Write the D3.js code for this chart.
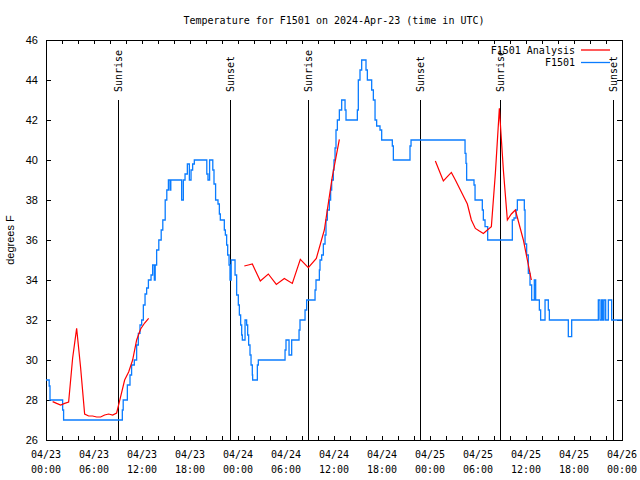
<!DOCTYPE html>
<html lang="en">
<head>
  <meta charset="UTF-8">
  <title>Temperature for F1501</title>
  <script src="https://d3js.org/d3.v7.min.js"></script>
  <style>
    body { margin: 0; background: white; }
    svg { display: block; }
    .mono { font-family: "DejaVu Sans Mono", monospace; font-size: 10px; }
    .sans { font-family: "Liberation Sans", Arial, sans-serif; font-size: 11px; }
  </style>
</head>
<body>
<div id="chart"></div>
<script>
  // hours since 2024-04-23 00:00 UTC
  const tickHours = [0, 6, 12, 18, 24, 30, 36, 42, 48, 54, 60, 66, 72];
  const tickDates = ["04/23", "04/23", "04/23", "04/23", "04/24", "04/24", "04/24", "04/24", "04/25", "04/25", "04/25", "04/25", "04/26"];
  const tickTimes = ["00:00", "06:00", "12:00", "18:00", "00:00", "06:00", "12:00", "18:00", "00:00", "06:00", "12:00", "18:00", "00:00"];
  const minorHours = d3.range(0, 73, 2);
  const yTicks = [26, 28, 30, 32, 34, 36, 38, 40, 42, 44, 46];

  const sunHours = [8.95, 22.95, 32.8, 46.8, 56.8, 70.85];
  const sunNames = ["Sunrise", "Sunset", "Sunrise", "Sunset", "Sunrise", "Sunset"];

  // F1501 observations (stepped)
  const obsHours = [
    0, 0.4, 0.5, 2.08, 2.2, 9.54, 9.65, 10.17, 10.5, 10.7,
    11.04, 11.33, 11.54, 11.75, 11.96, 12.17, 12.38, 12.58, 12.8, 13.13,
    13.33, 13.54, 13.65, 13.83, 14.1, 14.4, 14.6, 14.9, 15.1, 15.3,
    15.5, 15.6, 16.96, 17.17, 17.38, 17.67, 17.92, 18.13, 18.33, 18.54,
    20.1, 20.25, 20.45, 20.85, 21.0, 21.2, 21.5, 21.67, 21.79, 22.29,
    22.42, 22.58, 22.71, 22.88, 23.0, 23.15, 23.63, 23.83, 24.04, 24.17,
    24.33, 24.46, 24.54, 24.88, 25.08, 25.21, 25.33, 25.5, 25.63, 25.79,
    25.83, 26.42, 26.54, 29.88, 30.0, 30.38, 30.71, 31.63, 31.75, 32.38,
    32.58, 33.63, 33.75, 34.17, 34.25, 34.46, 34.67, 34.88, 35.0, 35.17,
    35.42, 35.58, 35.71, 35.92, 36.0, 36.13, 36.25, 36.42, 36.67, 36.96,
    37.38, 37.5, 38.92, 39.04, 39.25, 39.46, 40.0, 40.17, 40.71, 40.92,
    41.13, 41.33, 41.75, 41.96, 43.29, 43.42, 45.5, 45.63, 52.38, 52.5,
    52.58, 53.5, 53.63, 54.54, 54.67, 54.88, 55.21, 58.29, 58.5, 58.75,
    58.92, 59.79, 59.88, 60.08, 60.29, 60.5, 60.71, 61.04, 61.21, 61.67,
    61.83, 62.38, 62.79, 62.92, 65.29, 65.71, 69.04, 69.25, 69.46, 69.58,
    69.75, 69.96, 70.29, 70.71, 72
  ];
  const obsTemp = [
    29, 28.7, 28, 27.5, 27, 27.5, 28, 28.75, 29.25, 29.75,
    30, 30.75, 31.33, 31.75, 32, 32.75, 33.3, 33.6, 34, 34.25,
    34.75, 34, 34.75, 35.5, 36, 36.5, 37, 38, 38.5, 39,
    38.5, 39, 38, 39, 39.3, 39.8, 39, 39.5, 39.8, 40,
    39.3, 39, 40, 39.5, 38.8, 38, 37.8, 37.3, 37, 36.5,
    36.25, 35.75, 35.25, 34.75, 34, 35, 34.25, 33.25, 32.75, 32.25,
    31.75, 31.25, 31, 32, 31.75, 31.25, 30.75, 30.25, 29.75, 29.25,
    29, 29.75, 30, 30.5, 31, 30.25, 31, 31.5, 32, 32.5,
    33, 33.5, 34, 34.5, 35, 35.25, 35.8, 36.25, 37, 37.5,
    38, 38.5, 39, 39.5, 40, 40.6, 41.5, 42, 42.5, 43,
    42.5, 42, 42.5, 44, 44.5, 45, 44.5, 44, 43.5, 43,
    42, 41.7, 41.5, 41, 40.7, 40, 40.7, 41, 40.33, 39.83,
    39, 38.75, 38, 37.5, 37, 36.67, 36, 37, 37.1, 37.5,
    38, 37.5, 35.8, 35.25, 34.33, 33.75, 33, 34, 33, 32.5,
    32, 33, 32.5, 32, 31.17, 32, 33, 32, 33, 32,
    33, 32, 33, 32, 32
  ];

  // F1501 Analysis (null = gap)
  const anaHours = [
    0.83, 1.33, 1.83, 2.33, 2.83, 3.33, 3.83, 4.33, 4.83, 5.33,
    5.83, 6.33, 6.83, 7.33, 7.83, 8.33, 8.83, 9.33, 9.83, 10.33,
    10.83, 11.33, 11.83, 12.33, 12.83, 18,
    24.79, 25.29, 25.79, 26.79, 27.79, 28.79, 29.79, 30.79, 31.79, 32.79,
    33.79, 34.79, 35.79, 36.67, 42,
    48.67, 49.17, 49.67, 50.17, 50.67, 51.17, 51.67, 52.17, 52.67, 53.17,
    53.67, 54.17, 54.67, 55.17, 55.67, 56.17, 56.67, 57.17, 57.67, 58.17,
    58.67, 59.17, 59.67, 60.17, 60.67
  ];
  const anaTemp = [
    27.92, 27.83, 27.75, 27.83, 27.9, 30.1, 31.58, 29.6, 27.3, 27.2,
    27.2, 27.15, 27.15, 27.25, 27.3, 27.25, 27.35, 28.17, 29, 29.4,
    30, 31, 31.55, 31.85, 32.08, null,
    34.7, 34.75, 34.8, 33.95, 34.3, 33.78, 34.08, 33.83, 35.03, 34.62,
    35.08, 36.5, 39.17, 41.03, null,
    39.95, 39.45, 38.95, 39.17, 39.38, 39.0, 38.6, 38.2, 37.8, 37.0,
    36.58, 36.45, 36.33, 36.5, 36.67, 39.33, 42.58, 39.5, 37.0, 37.3,
    37.5, 36.75, 36.0, 35.0, 34.0
  ];

  const W = 640, H = 480;
  const m = { left: 46, right: 18, top: 40, bottom: 40 };

  const svg = d3.select("#chart").append("svg")
    .attr("width", W).attr("height", H);

  const x = d3.scaleLinear().domain([0, 72]).range([m.left, W - m.right]);
  const y = d3.scaleLinear().domain([26, 46]).range([H - m.bottom, m.top]);

  // title
  svg.append("text").attr("class", "mono")
    .attr("x", (m.left + W - m.right) / 2).attr("y", 24)
    .attr("text-anchor", "middle")
    .text("Temperature for F1501 on 2024-Apr-23 (time in UTC)");

  // ticks: bottom + top mirror
  svg.append("g").attr("transform", `translate(0,${H - m.bottom})`)
    .call(d3.axisBottom(x).tickValues(minorHours).tickSizeInner(-4).tickSizeOuter(0).tickFormat(""));
  svg.append("g").attr("transform", `translate(0,${m.top})`)
    .call(d3.axisTop(x).tickValues(minorHours).tickSizeInner(-4).tickSizeOuter(0).tickFormat(""));

  // x labels, two lines
  const xl = svg.append("g").attr("class", "mono");
  tickHours.forEach((h, i) => {
    const t = xl.append("text").attr("text-anchor", "middle");
    t.append("tspan").attr("x", x(h)).attr("y", 458).text(tickDates[i]);
    t.append("tspan").attr("x", x(h)).attr("y", 473).text(tickTimes[i]);
  });

  // y axis left + right mirror
  const yl = svg.append("g").attr("transform", `translate(${m.left},0)`)
    .call(d3.axisLeft(y).tickValues(yTicks).tickSizeInner(-5).tickSizeOuter(0).tickPadding(8));
  yl.selectAll("text").attr("class", "sans").attr("font-size", null).attr("font-family", null);
  svg.append("g").attr("transform", `translate(${W - m.right},0)`)
    .call(d3.axisRight(y).tickValues(yTicks).tickSizeInner(-5).tickSizeOuter(0).tickFormat(""));

  svg.selectAll(".domain").remove();
  svg.selectAll(".tick line").attr("stroke", "black");

  // frame
  svg.append("rect")
    .attr("x", m.left + 0.5).attr("y", m.top + 0.5)
    .attr("width", W - m.left - m.right).attr("height", H - m.top - m.bottom)
    .attr("fill", "none").attr("stroke", "black");

  svg.append("text").attr("class", "sans")
    .attr("transform", `translate(14,${(m.top + H - m.bottom) / 2}) rotate(-90)`)
    .attr("text-anchor", "middle")
    .text("degrees F");

  // sunrise / sunset markers
  sunHours.forEach((h, i) => {
    const px = Math.round(x(h)) + 0.5;
    svg.append("line")
      .attr("x1", px).attr("x2", px)
      .attr("y1", 100).attr("y2", H - m.bottom)
      .attr("stroke", "black");
    svg.append("text").attr("class", "mono")
      .attr("transform", `translate(${px},92) rotate(-90)`)
      .attr("dy", "0.35em")
      .text(sunNames[i]);
  });

  // observations, stepped
  const obs = obsHours.map((h, i) => [h, obsTemp[i]]);
  svg.append("path")
    .datum(obs)
    .attr("fill", "none")
    .attr("stroke", "#0a7cff")
    .attr("stroke-width", 1.3)
    .attr("d", d3.line().x(d => x(d[0])).y(d => y(d[1])).curve(d3.curveStepAfter));

  // analysis
  const ana = anaHours.map((h, i) => [h, anaTemp[i]]);
  svg.append("path")
    .datum(ana)
    .attr("fill", "none")
    .attr("stroke", "#ff0000")
    .attr("stroke-width", 1.2)
    .attr("d", d3.line().defined(d => d[1] !== null).x(d => x(d[0])).y(d => y(d[1])));

  // legend
  const legend = [["F1501 Analysis", "#ff0000"], ["F1501", "#0a7cff"]];
  legend.forEach(([name, col], i) => {
    const ly = 50 + i * 12.5;
    svg.append("text").attr("class", "mono")
      .attr("x", 575).attr("y", ly).attr("dy", "0.35em")
      .attr("text-anchor", "end").text(name);
    svg.append("line")
      .attr("x1", 581).attr("x2", 610).attr("y1", ly).attr("y2", ly)
      .attr("stroke", col).attr("stroke-width", 1.3);
  });
</script>
</body>
</html>
